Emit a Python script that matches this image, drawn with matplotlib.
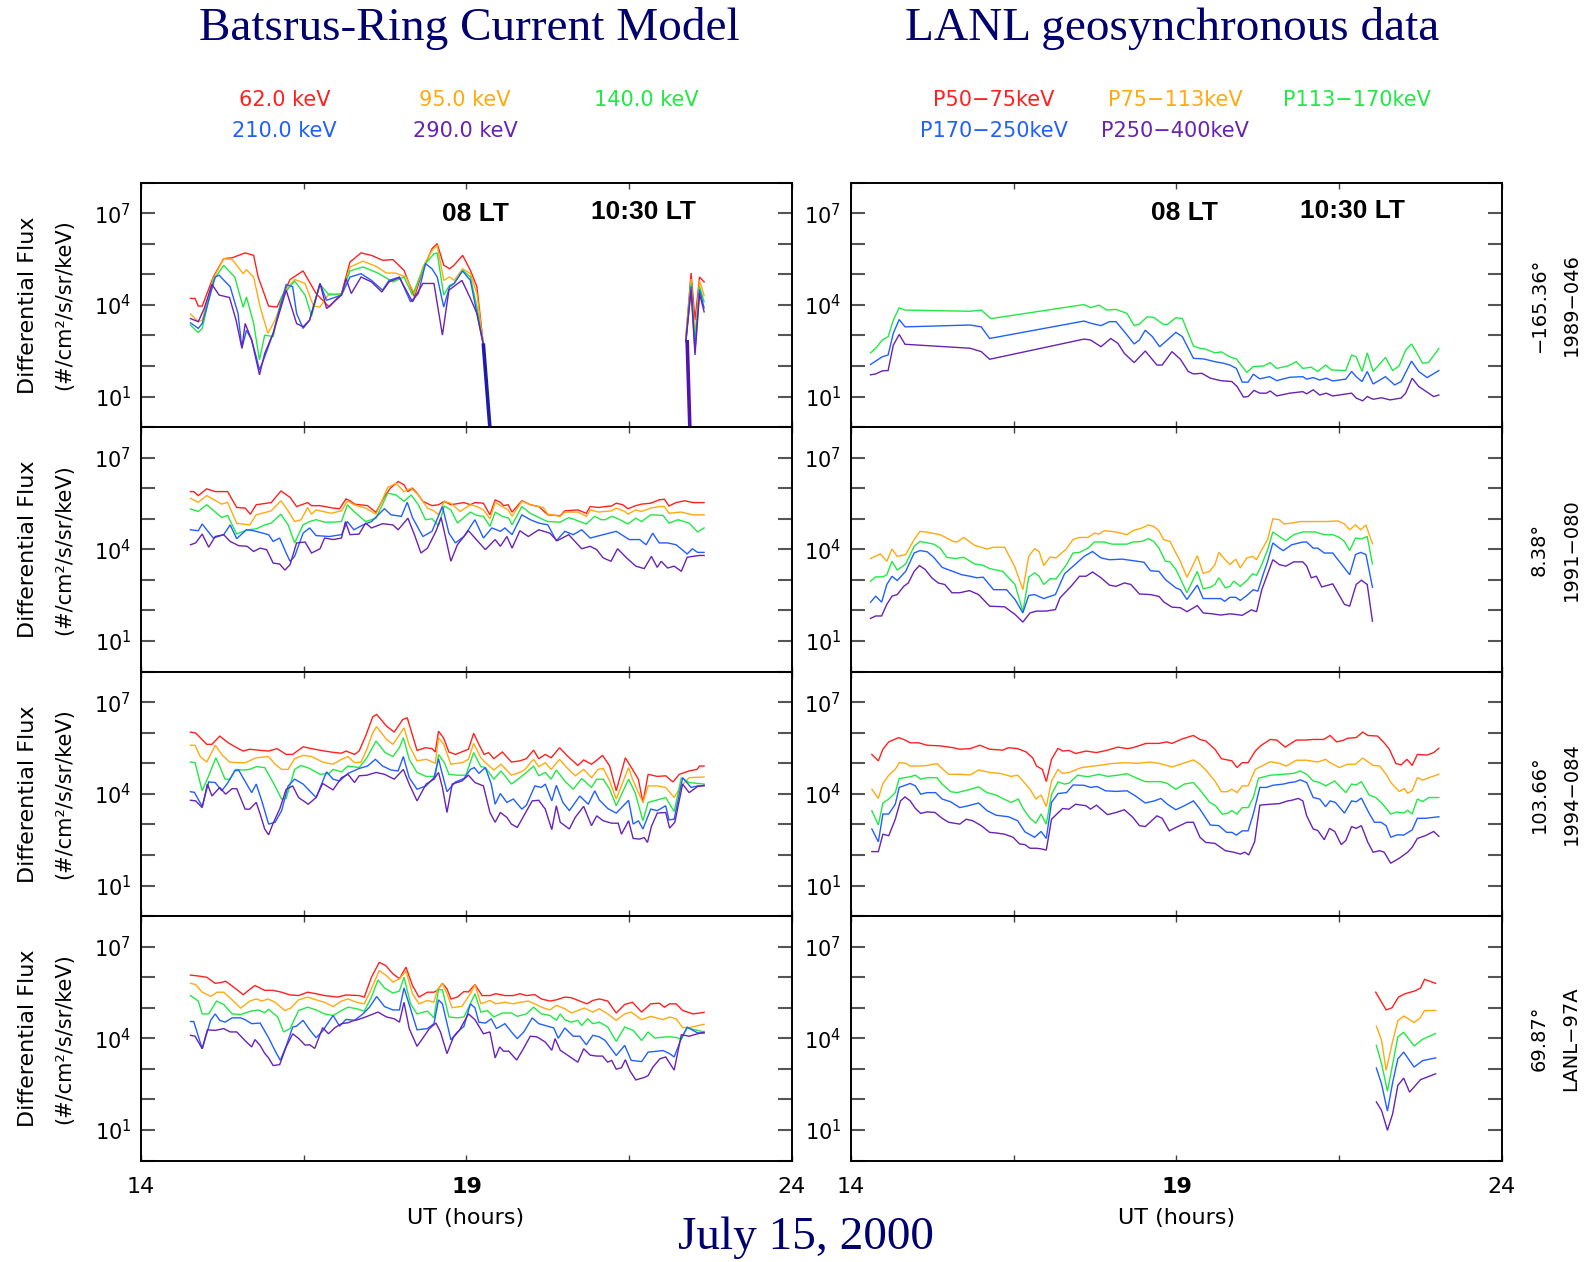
import numpy as np
import matplotlib
matplotlib.use("Agg")
import matplotlib.pyplot as plt
from matplotlib.ticker import FixedLocator, FuncFormatter, NullLocator

plt.rcParams['font.family'] = ['DejaVu Sans']
plt.rcParams['mathtext.fontset'] = 'dejavusans'

# ---------------------------------------------------------------------------
# Data: (UT hour, log10 differential flux) pairs
# GAP marks a break in a series
# ---------------------------------------------------------------------------
GAP = (None, None)

CHANNEL_COLORS = ['#ff2020', '#ffaa10', '#22e845', '#2060ff', '#6a22b4']
MODEL_LABELS = ['62.0 keV', '95.0 keV', '140.0 keV', '210.0 keV', '290.0 keV']
LANL_LABELS = ['P50\u221275keV', 'P75\u2212113keV', 'P113\u2212170keV', 'P170\u2212250keV', 'P250\u2212400keV']
SAT_NAMES = ['1989\u2212046', '1991\u2212080', '1994\u2212084', 'LANL\u221297A']
SAT_LONS = ['\u2212165.36\u00b0', '8.38\u00b0', '103.66\u00b0', '69.87\u00b0']
X_TICKS = [14, 16.5, 19, 21.5, 24]
X_TICK_LABELS = ['14', '', '19', '', '24']
LT_LABELS = ['08 LT', '10:30 LT']

# ---- Model, 1989-046 ----
M1_RED = [(14.76,4.21),(14.83,4.21),(14.88,3.96),(14.94,3.96),(15.11,4.91),(15.27,5.51),(15.40,5.54),(15.60,5.70),(15.73,5.62),(15.80,4.91),(15.96,3.96),(16.09,3.93),(16.29,4.83),(16.49,5.11),(16.69,4.37),(16.89,3.93),(17.08,4.37),(17.21,5.40),(17.38,5.70),(17.54,5.62),(17.71,5.46),(17.87,5.48),(18.04,5.13),(18.20,4.26),(18.33,5.13),(18.47,5.84),(18.55,6.00),(18.65,5.30),(18.74,5.18),(18.81,5.30),(18.94,5.62),(19.06,5.13),(19.16,4.59),(19.26,2.68), GAP, (22.37,2.96),(22.45,5.04),(22.51,3.50),(22.58,4.91),(22.65,4.75)]
M1_ORANGE = [(14.76,3.70),(14.88,3.45),(14.94,3.50),(15.11,4.86),(15.27,5.51),(15.40,5.49),(15.57,5.02),(15.62,5.15),(15.73,4.91),(15.83,3.93),(15.95,3.07),(16.06,3.50),(16.23,4.48),(16.36,4.83),(16.52,4.70),(16.65,3.96),(16.75,3.93),(16.89,4.37),(17.08,4.32),(17.21,5.24),(17.41,5.43),(17.61,5.26),(17.77,5.04),(17.91,5.04),(18.07,4.91),(18.20,4.37),(18.33,5.24),(18.47,5.78),(18.55,5.95),(18.65,4.80),(18.74,4.91),(18.81,4.80),(18.94,5.18),(19.06,5.02),(19.16,4.37),(19.26,2.68), GAP, (22.37,2.90),(22.45,4.85),(22.51,3.00),(22.58,4.80),(22.65,4.30)]
M1_GREEN = [(14.76,3.34),(14.88,3.09),(14.94,3.23),(15.11,4.80),(15.27,5.29),(15.44,4.91),(15.57,3.92),(15.62,4.26),(15.73,3.40),(15.82,2.20),(15.90,3.01),(16.03,2.96),(16.16,4.26),(16.36,4.78),(16.52,4.32),(16.62,3.63),(16.75,4.67),(16.89,4.32),(17.08,4.37),(17.21,5.11),(17.41,5.24),(17.64,5.04),(17.87,4.75),(18.04,4.91),(18.17,4.32),(18.37,5.35),(18.50,5.67),(18.55,5.70),(18.65,4.32),(18.74,4.64),(18.81,4.70),(18.94,5.13),(19.06,4.91),(19.16,3.93),(19.26,2.68), GAP, (22.37,2.85),(22.45,4.70),(22.51,2.80),(22.58,4.60),(22.65,4.10)]
M1_BLUE = [(14.76,3.41),(14.88,3.23),(14.94,3.39),(15.14,4.91),(15.20,4.97),(15.37,4.59),(15.49,3.72),(15.55,2.58),(15.62,3.17),(15.70,2.85),(15.77,2.30),(15.82,1.87),(15.90,2.30),(16.03,3.07),(16.23,4.67),(16.33,4.59),(16.39,3.72),(16.49,3.23),(16.59,3.50),(16.75,4.70),(16.85,4.15),(17.08,4.32),(17.21,4.91),(17.38,5.02),(17.54,4.80),(17.71,4.48),(17.81,4.80),(17.97,4.91),(18.14,4.10),(18.26,4.37),(18.37,5.35),(18.47,5.18),(18.55,4.91),(18.65,3.93),(18.74,4.59),(18.81,4.70),(18.94,5.11),(19.06,4.80),(19.16,3.72),(19.26,2.68), GAP, (22.37,2.80),(22.45,4.60),(22.51,2.50),(22.58,4.50),(22.65,3.90)]
M1_PURPLE = [(14.76,3.55),(14.88,3.45),(14.97,3.88),(15.09,4.67),(15.20,4.32),(15.36,4.24),(15.46,3.50),(15.55,2.58),(15.60,3.39),(15.70,2.85),(15.82,1.71),(15.90,2.41),(16.03,3.07),(16.23,4.48),(16.39,3.39),(16.49,3.28),(16.59,3.50),(16.75,4.70),(16.85,3.88),(17.08,4.32),(17.15,4.86),(17.23,4.37),(17.38,4.91),(17.54,4.75),(17.70,4.42),(17.81,4.75),(17.97,4.89),(18.17,4.10),(18.33,4.70),(18.50,4.70),(18.63,3.01),(18.73,4.48),(18.93,4.80),(19.06,4.21),(19.16,3.72),(19.26,2.68), GAP, (22.37,2.80),(22.45,4.48),(22.51,2.36),(22.58,4.37),(22.65,3.77)]
M1_DROPOUT_A = [(19.26,2.68),(19.37,-0.3)]
M1_DROPOUT_B = [(22.39,2.79),(22.435,-0.3)]

# ---- LANL data, 1989-046 ----
L1_GREEN = [(14.30,2.43),(14.38,2.58),(14.48,2.85),(14.57,2.96),(14.65,3.50),(14.74,3.90),(14.83,3.83),(15.83,3.79),(16.00,3.83),(16.15,3.55),(17.58,4.01),(17.68,3.91),(17.81,3.99),(17.93,3.83),(18.07,3.85),(18.24,3.72),(18.35,3.32),(18.43,3.37),(18.55,3.61),(18.65,3.59),(18.80,3.36),(18.86,3.36),(18.99,3.58),(19.09,3.55),(19.26,2.65),(19.36,2.58),(19.45,2.55),(19.59,2.43),(19.69,2.46),(19.82,2.30),(19.92,2.23),(20.08,1.79),(20.18,1.98),(20.34,2.00),(20.44,2.11),(20.54,1.92),(20.71,2.00),(20.84,2.14),(20.94,1.92),(21.07,1.96),(21.17,1.82),(21.29,2.03),(21.38,1.87),(21.60,1.85),(21.69,2.36),(21.76,2.30),(21.85,1.82),(21.93,2.43),(22.02,1.82),(22.21,2.28),(22.32,1.85),(22.42,2.00),(22.52,2.52),(22.61,2.72),(22.68,2.47),(22.78,2.09),(22.87,2.11),(23.03,2.57)]
L1_BLUE = [(14.30,2.05),(14.48,2.30),(14.57,2.36),(14.65,3.07),(14.74,3.52),(14.83,3.28),(15.83,3.34),(16.00,3.28),(16.13,2.90),(17.58,3.47),(17.68,3.40),(17.84,3.32),(17.97,3.45),(18.07,3.45),(18.20,3.12),(18.35,2.72),(18.43,2.85),(18.52,3.17),(18.63,2.96),(18.74,2.63),(18.86,2.85),(18.99,3.10),(19.09,2.96),(19.26,2.25),(19.42,2.23),(19.59,2.14),(19.72,2.09),(19.82,2.03),(19.92,1.92),(20.01,1.47),(20.10,1.47),(20.18,1.73),(20.28,1.58),(20.43,1.65),(20.54,1.52),(20.74,1.63),(20.94,1.65),(21.00,1.57),(21.10,1.62),(21.20,1.54),(21.30,1.60),(21.40,1.51),(21.60,1.57),(21.69,1.82),(21.76,1.65),(21.85,1.49),(21.93,1.82),(22.02,1.41),(22.21,1.65),(22.35,1.38),(22.45,1.49),(22.61,2.16),(22.72,1.82),(22.85,1.62),(23.03,1.85)]
L1_PURPLE = [(14.30,1.71),(14.38,1.74),(14.48,1.84),(14.57,1.85),(14.65,2.68),(14.74,3.03),(14.83,2.71),(15.83,2.58),(16.00,2.47),(16.13,2.22),(17.58,2.88),(17.68,2.85),(17.84,2.63),(17.99,2.90),(18.10,2.74),(18.20,2.41),(18.35,2.11),(18.52,2.49),(18.70,2.03),(18.78,2.03),(18.93,2.47),(19.06,2.22),(19.18,1.82),(19.26,1.74),(19.39,1.76),(19.52,1.60),(19.68,1.52),(19.85,1.49),(19.93,1.33),(20.03,0.98),(20.10,1.00),(20.19,1.20),(20.28,1.11),(20.38,1.11),(20.44,1.18),(20.54,1.02),(20.74,1.11),(20.94,1.16),(21.00,1.09),(21.10,1.22),(21.20,1.05),(21.30,1.11),(21.40,1.02),(21.69,1.11),(21.76,0.95),(21.86,0.86),(21.93,1.00),(22.02,0.91),(22.15,0.96),(22.28,0.89),(22.45,0.95),(22.52,1.11),(22.62,1.60),(22.72,1.33),(22.95,1.00),(23.03,1.05)]

# ---- Model, 1991-080 ----
M2_RED = [(14.76,5.89),(14.81,5.89),(14.88,5.76),(15.01,5.98),(15.14,5.89),(15.27,5.89),(15.33,5.89),(15.47,5.37),(15.60,5.35),(15.68,5.15),(15.77,5.46),(16.00,5.53),(16.15,5.91),(16.29,5.70),(16.39,5.40),(16.56,5.53),(16.62,5.43),(16.75,5.43),(16.95,5.35),(17.05,5.33),(17.15,5.65),(17.21,5.59),(17.28,5.48),(17.48,5.43),(17.61,5.21),(17.74,5.73),(17.83,6.00),(17.95,6.22),(18.04,6.11),(18.10,5.89),(18.17,6.00),(18.24,5.84),(18.33,5.57),(18.47,5.43),(18.57,5.46),(18.66,5.57),(18.76,5.46),(18.96,5.53),(19.06,5.46),(19.13,5.53),(19.26,5.51),(19.36,5.13),(19.44,5.62),(19.52,5.54),(19.57,5.43),(19.64,5.46),(19.70,5.22),(19.85,5.59),(19.98,5.46),(20.11,5.40),(20.25,5.13),(20.44,5.10),(20.51,5.26),(20.71,5.29),(20.84,5.18),(20.90,5.40),(21.03,5.37),(21.13,5.40),(21.23,5.42),(21.30,5.51),(21.40,5.46),(21.48,5.33),(21.60,5.43),(21.69,5.48),(21.83,5.51),(21.96,5.62),(22.04,5.64),(22.11,5.42),(22.22,5.53),(22.35,5.59),(22.48,5.53),(22.65,5.53)]
M2_ORANGE = [(14.76,5.67),(14.88,5.54),(15.01,5.76),(15.24,5.48),(15.33,5.54),(15.47,4.85),(15.67,4.80),(15.77,5.13),(16.00,5.26),(16.15,5.59),(16.25,5.29),(16.36,4.91),(16.46,4.97),(16.56,5.37),(16.62,5.15),(16.69,5.29),(16.92,5.18),(17.08,5.26),(17.17,5.59),(17.27,5.46),(17.45,5.35),(17.61,5.15),(17.79,6.03),(17.92,6.16),(18.04,5.89),(18.15,6.00),(18.26,5.78),(18.40,5.35),(18.50,5.26),(18.57,5.13),(18.66,5.57),(18.76,5.51),(18.90,5.24),(19.06,5.46),(19.16,5.40),(19.26,5.29),(19.36,5.00),(19.44,5.54),(19.55,5.40),(19.64,5.29),(19.70,5.08),(19.85,5.57),(19.98,5.46),(20.18,5.37),(20.25,5.15),(20.44,5.08),(20.51,5.22),(20.71,5.22),(20.84,5.08),(20.90,5.29),(21.03,5.22),(21.23,5.26),(21.30,5.35),(21.43,5.24),(21.48,5.15),(21.60,5.29),(21.69,5.24),(21.83,5.35),(21.96,5.40),(22.04,5.40),(22.11,5.18),(22.29,5.22),(22.48,5.13),(22.65,5.13)]
M2_GREEN = [(14.76,5.32),(14.88,5.24),(15.01,5.46),(15.24,5.04),(15.33,5.11),(15.47,4.50),(15.63,4.64),(15.77,4.67),(15.90,4.80),(16.00,4.86),(16.15,5.15),(16.26,4.80),(16.36,4.21),(16.49,4.80),(16.59,4.91),(16.69,4.97),(16.82,4.89),(16.95,4.89),(17.08,4.91),(17.17,5.46),(17.27,5.24),(17.45,4.91),(17.61,5.02),(17.79,5.84),(17.92,5.78),(18.04,5.57),(18.15,5.78),(18.26,5.46),(18.37,4.97),(18.47,5.00),(18.57,4.78),(18.66,5.42),(18.76,5.29),(18.86,4.86),(19.06,5.22),(19.16,5.11),(19.26,5.08),(19.36,4.75),(19.44,5.22),(19.55,5.08),(19.65,5.02),(19.70,4.80),(19.85,5.40),(19.98,5.18),(20.18,4.97),(20.25,4.91),(20.44,4.89),(20.57,5.04),(20.74,4.91),(20.84,4.83),(20.97,5.08),(21.07,4.97),(21.13,4.97),(21.23,5.08),(21.33,5.00),(21.48,4.83),(21.60,5.02),(21.69,4.91),(21.83,5.13),(22.02,5.11),(22.11,4.86),(22.25,4.97),(22.42,4.86),(22.55,4.57),(22.65,4.70)]
M2_BLUE = [(14.76,4.64),(14.88,4.61),(14.94,4.83),(15.11,4.37),(15.27,4.48),(15.37,4.80),(15.47,4.35),(15.62,4.64),(15.73,4.61),(15.96,4.48),(16.03,4.26),(16.13,4.37),(16.23,3.88),(16.29,3.61),(16.36,3.77),(16.49,4.53),(16.59,4.70),(16.69,4.45),(16.89,4.42),(17.08,4.48),(17.17,4.91),(17.27,4.64),(17.41,4.80),(17.54,4.91),(17.74,5.33),(17.84,5.13),(18.00,5.08),(18.09,5.54),(18.17,5.04),(18.33,4.42),(18.47,4.59),(18.63,5.40),(18.73,4.53),(18.83,4.21),(18.96,4.42),(19.13,4.97),(19.26,4.37),(19.39,4.70),(19.52,4.59),(19.59,4.70),(19.70,4.48),(19.85,5.13),(19.98,4.97),(20.11,4.86),(20.25,4.80),(20.38,4.28),(20.51,4.59),(20.64,4.48),(20.77,4.64),(20.90,4.37),(21.10,4.48),(21.30,4.59),(21.50,4.32),(21.66,4.32),(21.76,4.15),(21.86,4.53),(21.96,4.21),(22.09,4.21),(22.22,4.15),(22.39,3.85),(22.47,4.02),(22.55,3.90),(22.65,3.90)]
M2_PURPLE = [(14.76,4.15),(14.84,4.21),(14.94,4.50),(15.04,4.07),(15.14,4.42),(15.27,4.48),(15.37,4.26),(15.50,4.12),(15.63,4.10),(15.73,3.93),(15.83,4.04),(15.93,3.99),(16.03,3.55),(16.13,3.52),(16.21,3.32),(16.29,3.50),(16.39,4.21),(16.52,4.24),(16.62,3.88),(16.75,4.02),(16.82,4.37),(16.95,4.32),(17.08,4.37),(17.14,4.91),(17.21,4.48),(17.35,4.50),(17.45,4.86),(17.54,4.70),(17.71,4.84),(17.87,4.80),(17.95,4.64),(18.10,5.02),(18.20,4.48),(18.30,3.88),(18.40,4.04),(18.53,4.59),(18.61,5.04),(18.76,3.61),(18.86,4.15),(19.03,4.61),(19.13,4.37),(19.29,3.99),(19.44,4.32),(19.52,4.10),(19.62,4.42),(19.70,4.04),(19.82,4.61),(19.95,4.42),(20.11,4.64),(20.28,4.53),(20.39,4.28),(20.57,4.48),(20.77,4.02),(20.90,4.10),(21.00,3.99),(21.10,3.72),(21.22,3.61),(21.32,4.02),(21.46,3.72),(21.60,3.45),(21.73,3.37),(21.84,3.77),(21.93,3.41),(21.99,3.61),(22.09,3.39),(22.19,3.45),(22.30,3.28),(22.39,3.74),(22.48,3.77),(22.58,3.80),(22.65,3.80)]

# ---- LANL data, 1991-080 ----
L2_ORANGE = [(14.30,3.70),(14.45,3.85),(14.55,3.61),(14.63,4.01),(14.71,3.77),(14.84,3.83),(14.97,4.32),(15.06,4.59),(15.17,4.56),(15.37,4.48),(15.57,4.26),(15.63,4.24),(15.73,4.39),(15.90,4.13),(16.09,4.01),(16.19,4.07),(16.36,4.07),(16.52,3.41),(16.64,2.68),(16.73,3.77),(16.82,4.02),(16.89,3.93),(16.96,3.47),(17.06,3.75),(17.15,3.72),(17.31,4.02),(17.41,4.32),(17.51,4.39),(17.64,4.39),(17.74,4.53),(17.81,4.50),(17.89,4.61),(18.07,4.57),(18.24,4.48),(18.33,4.61),(18.47,4.70),(18.57,4.80),(18.65,4.75),(18.73,4.61),(18.80,4.32),(18.90,4.26),(18.99,3.88),(19.06,3.61),(19.16,3.09),(19.22,3.34),(19.32,3.79),(19.41,3.21),(19.51,3.28),(19.59,3.50),(19.65,3.90),(19.75,3.66),(19.82,3.50),(19.91,3.68),(19.98,3.39),(20.08,3.72),(20.17,3.77),(20.23,3.66),(20.31,3.99),(20.40,4.32),(20.48,5.00),(20.58,4.97),(20.65,4.83),(20.77,4.86),(20.90,4.91),(21.10,4.91),(21.30,4.91),(21.48,4.93),(21.58,4.83),(21.66,4.64),(21.75,4.80),(21.83,4.64),(21.91,4.80),(22.01,4.18)]
L2_GREEN = [(14.30,2.96),(14.38,3.10),(14.49,3.10),(14.55,3.17),(14.63,3.61),(14.71,3.32),(14.84,3.52),(14.97,4.10),(15.06,4.26),(15.27,4.17),(15.37,4.04),(15.47,3.74),(15.60,3.70),(15.73,3.74),(15.90,3.52),(16.03,3.48),(16.13,3.37),(16.33,3.28),(16.52,2.85),(16.64,1.96),(16.73,3.09),(16.82,3.23),(16.89,3.12),(16.96,2.85),(17.06,3.04),(17.15,3.03),(17.31,3.50),(17.41,3.88),(17.51,3.90),(17.64,4.04),(17.74,4.24),(17.89,4.24),(18.01,4.17),(18.24,4.17),(18.33,4.24),(18.47,4.26),(18.57,4.35),(18.65,4.26),(18.73,4.04),(18.83,3.61),(18.90,3.59),(18.99,3.34),(19.06,3.04),(19.16,2.58),(19.22,2.85),(19.32,3.28),(19.41,2.71),(19.52,2.76),(19.59,2.85),(19.65,3.07),(19.75,2.74),(19.82,2.79),(19.88,2.96),(19.98,2.79),(20.08,2.98),(20.17,3.20),(20.23,3.15),(20.31,3.50),(20.40,3.99),(20.48,4.57),(20.58,4.42),(20.68,4.28),(20.80,4.48),(20.94,4.57),(21.13,4.57),(21.27,4.48),(21.40,4.48),(21.50,4.39),(21.58,4.26),(21.66,3.96),(21.75,4.37),(21.84,4.34),(21.93,4.42),(22.01,3.52)]
L2_BLUE = [(14.30,2.27),(14.38,2.47),(14.47,2.27),(14.55,2.85),(14.63,3.12),(14.71,2.98),(14.84,3.28),(14.97,3.88),(15.06,3.96),(15.17,3.92),(15.27,3.74),(15.40,3.41),(15.60,3.25),(15.70,3.17),(15.83,3.12),(15.93,3.07),(16.03,3.09),(16.19,2.68),(16.39,2.68),(16.52,2.36),(16.64,1.92),(16.73,2.49),(16.82,2.52),(16.96,2.39),(17.14,2.52),(17.28,3.20),(17.45,3.52),(17.58,3.77),(17.71,3.93),(17.84,3.72),(17.97,3.66),(18.17,3.68),(18.33,3.63),(18.50,3.58),(18.60,3.30),(18.73,3.28),(18.83,3.01),(18.99,2.74),(19.06,2.68),(19.16,2.36),(19.32,2.83),(19.41,2.39),(19.55,2.39),(19.68,2.39),(19.74,2.30),(19.82,2.43),(19.91,2.43),(19.98,2.33),(20.08,2.49),(20.18,2.68),(20.25,2.63),(20.33,3.17),(20.40,3.61),(20.48,4.21),(20.58,4.04),(20.64,3.96),(20.77,4.15),(20.94,4.24),(21.00,4.24),(21.10,4.04),(21.17,4.04),(21.27,3.88),(21.40,3.88),(21.48,3.66),(21.58,3.39),(21.66,3.17),(21.75,3.83),(21.83,3.90),(21.91,3.83),(22.01,2.76)]
L2_PURPLE = [(14.30,1.74),(14.38,1.82),(14.47,1.82),(14.55,2.20),(14.63,2.47),(14.71,2.52),(14.81,2.79),(14.88,2.90),(14.97,3.28),(15.05,3.47),(15.14,3.34),(15.24,3.07),(15.34,2.90),(15.44,2.85),(15.55,2.58),(15.67,2.58),(15.82,2.65),(15.96,2.52),(16.13,2.14),(16.36,2.12),(16.52,1.87),(16.64,1.62),(16.75,1.92),(16.85,1.98),(17.00,1.98),(17.14,2.03),(17.21,2.41),(17.38,2.79),(17.51,3.12),(17.61,3.12),(17.71,3.26),(17.84,3.07),(17.97,2.83),(18.07,2.79),(18.20,2.90),(18.30,2.85),(18.43,2.54),(18.60,2.52),(18.73,2.46),(18.81,2.27),(18.93,2.11),(19.06,2.09),(19.16,1.96),(19.32,2.16),(19.41,1.92),(19.55,1.89),(19.68,1.85),(19.82,1.89),(19.91,1.87),(20.01,1.84),(20.15,2.02),(20.23,1.96),(20.31,2.68),(20.48,3.66),(20.58,3.50),(20.68,3.45),(20.80,3.59),(20.94,3.59),(21.00,3.45),(21.07,3.07),(21.15,3.12),(21.23,2.77),(21.40,2.87),(21.58,2.20),(21.66,2.14),(21.76,2.85),(21.84,2.99),(21.93,2.85),(22.01,1.65)]

# ---- Model, 1994-084 ----
M3_RED = [(14.76,6.02),(14.84,5.99),(15.01,5.62),(15.09,5.62),(15.21,5.89),(15.34,5.67),(15.47,5.51),(15.57,5.40),(15.67,5.46),(15.80,5.43),(15.96,5.40),(16.09,5.48),(16.23,5.29),(16.33,5.29),(16.49,5.54),(16.62,5.48),(16.82,5.40),(16.98,5.35),(17.08,5.33),(17.15,5.40),(17.28,5.29),(17.35,5.40),(17.45,5.89),(17.56,6.52),(17.62,6.60),(17.77,6.22),(17.89,6.02),(18.02,6.43),(18.09,6.49),(18.24,5.42),(18.37,5.51),(18.47,5.48),(18.52,5.37),(18.57,6.05),(18.65,5.82),(18.73,5.37),(18.83,5.29),(18.96,5.40),(19.03,5.46),(19.11,5.98),(19.19,5.62),(19.27,5.29),(19.34,5.35),(19.42,5.15),(19.55,5.37),(19.69,5.04),(19.82,5.08),(19.92,5.15),(20.03,5.43),(20.11,5.15),(20.21,5.29),(20.30,5.18),(20.43,5.51),(20.54,5.26),(20.71,4.93),(20.80,5.11),(20.92,4.97),(21.00,5.10),(21.09,5.26),(21.20,4.91),(21.30,4.10),(21.44,5.18),(21.55,4.80),(21.64,4.48),(21.71,3.72),(21.79,4.64),(21.93,4.57),(22.06,4.59),(22.17,4.39),(22.27,4.64),(22.42,4.75),(22.54,4.80),(22.58,4.91),(22.65,4.91)]
M3_ORANGE = [(14.76,5.59),(14.83,5.59),(14.91,5.22),(15.01,5.04),(15.14,5.59),(15.24,5.29),(15.36,5.04),(15.50,5.02),(15.60,5.02),(15.77,5.18),(15.96,5.22),(16.06,4.97),(16.16,4.80),(16.26,4.80),(16.36,5.15),(16.49,5.26),(16.62,5.22),(16.79,5.04),(16.95,4.97),(17.08,5.13),(17.18,5.22),(17.28,5.02),(17.38,5.04),(17.47,5.46),(17.56,6.00),(17.62,6.20),(17.77,5.78),(17.87,5.62),(18.04,6.16),(18.12,5.59),(18.24,5.08),(18.38,5.13),(18.52,5.00),(18.57,5.84),(18.65,5.62),(18.76,4.97),(18.93,5.02),(19.03,5.13),(19.11,5.65),(19.22,5.18),(19.29,5.02),(19.42,4.78),(19.53,4.97),(19.69,4.61),(19.82,4.70),(19.90,4.80),(20.03,5.13),(20.11,4.89),(20.21,5.02),(20.30,4.80),(20.43,5.13),(20.54,4.86),(20.67,4.59),(20.80,4.80),(20.92,4.53),(21.02,4.80),(21.10,4.83),(21.20,4.42),(21.30,3.83),(21.49,4.86),(21.55,4.48),(21.64,4.04),(21.71,3.72),(21.79,4.26),(21.93,4.26),(22.06,4.21),(22.19,3.88),(22.29,4.24),(22.42,4.53),(22.65,4.55)]
M3_GREEN = [(14.76,5.04),(14.83,5.02),(14.94,4.10),(15.04,4.59),(15.15,5.18),(15.23,4.80),(15.29,4.48),(15.37,4.48),(15.45,4.80),(15.57,4.78),(15.67,4.80),(15.77,4.89),(15.90,4.86),(16.03,4.37),(16.16,3.83),(16.23,3.85),(16.36,4.80),(16.46,4.93),(16.59,4.83),(16.75,4.64),(16.89,4.67),(16.95,4.80),(17.08,4.72),(17.18,4.91),(17.35,4.86),(17.47,5.18),(17.61,5.73),(17.75,5.35),(17.87,5.22),(17.97,5.51),(18.03,5.84),(18.12,5.13),(18.24,4.70),(18.38,4.57),(18.52,4.57),(18.57,5.29),(18.66,5.02),(18.73,4.64),(18.86,4.61),(18.99,4.61),(19.11,5.35),(19.22,4.89),(19.29,4.86),(19.42,4.48),(19.53,4.75),(19.69,4.32),(19.82,4.53),(19.92,4.70),(20.03,4.91),(20.11,4.59),(20.21,4.70),(20.30,4.48),(20.38,4.78),(20.51,4.42),(20.64,4.15),(20.77,4.50),(20.92,4.21),(21.00,4.48),(21.10,4.48),(21.20,4.15),(21.30,3.61),(21.49,4.48),(21.59,4.04),(21.71,3.12),(21.79,3.72),(21.93,3.80),(22.06,3.88),(22.19,3.42),(22.30,4.53),(22.42,4.37),(22.65,4.32)]
M3_BLUE = [(14.76,4.07),(14.82,4.05),(14.94,3.59),(15.04,4.39),(15.14,4.37),(15.24,4.10),(15.32,4.32),(15.44,4.75),(15.50,4.78),(15.58,4.48),(15.70,4.04),(15.77,4.32),(15.86,3.74),(15.96,3.01),(16.06,3.07),(16.16,3.45),(16.26,4.26),(16.36,4.48),(16.49,4.32),(16.69,3.88),(16.85,4.72),(16.95,4.48),(17.05,4.42),(17.18,4.67),(17.35,4.83),(17.48,4.91),(17.60,5.13),(17.71,4.91),(17.84,4.78),(17.95,4.75),(18.03,5.22),(18.12,4.53),(18.24,4.15),(18.38,4.26),(18.50,4.53),(18.57,5.15),(18.61,4.80),(18.70,4.07),(18.83,4.39),(18.96,4.50),(19.06,4.80),(19.12,4.86),(19.19,4.67),(19.29,4.86),(19.38,4.32),(19.44,3.66),(19.52,4.01),(19.62,3.72),(19.72,3.83),(19.85,3.50),(19.92,3.63),(20.05,4.26),(20.15,4.21),(20.21,4.32),(20.31,3.77),(20.38,4.28),(20.48,3.72),(20.58,3.45),(20.74,3.93),(20.87,3.66),(20.97,4.10),(21.04,3.80),(21.17,3.52),(21.30,3.37),(21.49,3.79),(21.56,3.01),(21.64,3.12),(21.71,2.85),(21.83,3.50),(21.93,3.45),(22.06,3.61),(22.11,3.15),(22.19,3.17),(22.32,4.53),(22.45,4.21),(22.55,4.26),(22.65,4.26)]
M3_PURPLE = [(14.76,3.79),(14.84,3.77),(14.94,3.55),(15.02,4.32),(15.09,3.93),(15.21,4.21),(15.30,3.99),(15.40,4.17),(15.47,4.17),(15.60,3.50),(15.67,3.50),(15.77,3.72),(15.83,3.34),(15.90,2.85),(15.96,2.66),(16.03,3.04),(16.13,3.50),(16.23,4.15),(16.33,4.26),(16.42,3.88),(16.57,3.66),(16.69,3.88),(16.79,4.34),(16.95,4.13),(17.08,4.53),(17.18,4.64),(17.28,4.37),(17.35,4.59),(17.47,4.61),(17.61,4.70),(17.74,4.64),(17.89,4.48),(18.03,4.80),(18.12,4.32),(18.24,3.77),(18.38,4.32),(18.50,4.48),(18.57,4.70),(18.63,4.21),(18.70,3.39),(18.78,4.32),(18.93,4.42),(19.03,4.61),(19.13,4.37),(19.26,4.26),(19.36,3.39),(19.44,3.07),(19.52,3.39),(19.62,3.23),(19.69,3.01),(19.78,2.90),(19.88,3.28),(20.01,3.77),(20.11,3.79),(20.21,3.50),(20.31,2.83),(20.38,3.61),(20.44,3.07),(20.58,2.85),(20.67,3.23),(20.80,3.59),(20.92,2.96),(21.00,3.28),(21.10,3.12),(21.23,3.04),(21.33,3.04),(21.38,2.68),(21.49,3.12),(21.56,2.54),(21.66,2.52),(21.73,2.57),(21.78,2.41),(21.84,2.93),(21.93,3.37),(22.06,3.39),(22.12,2.88),(22.20,3.07),(22.32,4.32),(22.42,4.04),(22.55,4.24),(22.65,4.28)]

# ---- LANL data, 1994-084 ----
L3_RED = [(14.32,5.29),(14.42,5.08),(14.49,5.46),(14.58,5.70),(14.73,5.84),(14.81,5.78),(14.91,5.67),(15.04,5.67),(15.17,5.59),(15.37,5.57),(15.57,5.51),(15.67,5.46),(15.83,5.48),(15.98,5.59),(16.13,5.46),(16.33,5.43),(16.42,5.51),(16.56,5.48),(16.69,5.37),(16.79,5.18),(16.85,4.91),(16.94,4.80),(17.00,4.40),(17.08,5.13),(17.18,5.49),(17.25,5.40),(17.35,5.42),(17.45,5.32),(17.61,5.40),(17.77,5.35),(17.94,5.43),(18.10,5.53),(18.24,5.48),(18.33,5.51),(18.53,5.65),(18.73,5.65),(18.85,5.70),(18.93,5.65),(19.09,5.80),(19.26,5.91),(19.36,5.78),(19.45,5.73),(19.59,5.46),(19.69,5.15),(19.85,5.08),(19.93,4.86),(20.01,5.02),(20.10,5.02),(20.21,5.40),(20.29,5.57),(20.44,5.78),(20.54,5.76),(20.67,5.53),(20.84,5.76),(20.97,5.76),(21.10,5.78),(21.26,5.78),(21.36,5.91),(21.46,5.70),(21.56,5.75),(21.63,5.82),(21.76,5.84),(21.86,6.02),(21.94,5.91),(22.09,5.89),(22.19,5.67),(22.27,5.46),(22.37,4.99),(22.45,4.95),(22.54,5.13),(22.62,4.93),(22.70,5.29),(22.85,5.27),(22.95,5.35),(23.03,5.49)]
L3_ORANGE = [(14.32,4.15),(14.42,3.85),(14.49,4.34),(14.58,4.61),(14.68,4.80),(14.74,5.02),(14.84,5.00),(14.91,4.91),(15.07,4.91),(15.17,4.93),(15.32,4.99),(15.40,4.83),(15.50,4.64),(15.67,4.64),(15.83,4.62),(15.96,4.78),(16.13,4.70),(16.29,4.67),(16.46,4.57),(16.56,4.61),(16.65,4.40),(16.75,4.15),(16.84,3.83),(16.92,3.96),(17.00,3.58),(17.08,4.42),(17.18,4.80),(17.25,4.67),(17.35,4.70),(17.54,4.86),(17.81,4.93),(18.00,4.99),(18.20,5.02),(18.40,5.00),(18.60,5.04),(18.73,5.00),(18.93,4.88),(19.06,4.97),(19.16,5.04),(19.26,5.11),(19.36,4.97),(19.45,4.78),(19.59,4.42),(19.69,4.07),(19.78,4.07),(19.85,4.15),(19.93,4.04),(20.01,4.26),(20.10,4.26),(20.21,4.80),(20.31,4.91),(20.44,5.05),(20.58,5.00),(20.69,4.91),(20.84,5.10),(21.00,5.10),(21.17,5.04),(21.29,5.13),(21.36,5.02),(21.50,4.86),(21.63,4.97),(21.75,4.97),(21.86,5.17),(22.02,4.93),(22.12,4.91),(22.22,4.64),(22.30,4.35),(22.42,4.08),(22.50,4.17),(22.55,4.02),(22.62,4.10),(22.70,4.53),(22.78,4.45),(22.88,4.53),(23.03,4.64)]
L3_GREEN = [(14.32,3.45),(14.42,2.98),(14.49,3.70),(14.58,3.83),(14.68,4.04),(14.74,4.50),(14.91,4.56),(14.99,4.61),(15.07,4.48),(15.17,4.53),(15.32,4.53),(15.40,4.32),(15.53,4.07),(15.63,4.04),(15.80,4.13),(15.96,4.23),(16.09,4.04),(16.23,3.96),(16.33,3.85),(16.46,3.72),(16.57,3.83),(16.65,3.50),(16.75,3.20),(16.84,3.04),(16.92,3.34),(17.00,3.01),(17.08,3.98),(17.18,4.39),(17.28,4.32),(17.35,4.35),(17.48,4.61),(17.64,4.56),(17.81,4.64),(17.94,4.57),(18.10,4.61),(18.24,4.66),(18.37,4.53),(18.52,4.40),(18.76,4.40),(18.86,4.34),(18.99,4.15),(19.12,4.32),(19.26,4.37),(19.36,4.13),(19.51,3.72),(19.60,3.61),(19.70,3.34),(19.78,3.36),(19.85,3.45),(19.93,3.34),(20.01,3.55),(20.10,3.55),(20.18,3.88),(20.26,4.51),(20.44,4.61),(20.64,4.64),(20.80,4.67),(20.90,4.75),(21.00,4.64),(21.10,4.42),(21.20,4.37),(21.29,4.26),(21.43,4.42),(21.60,4.04),(21.69,4.32),(21.76,4.29),(21.84,4.40),(21.96,3.96),(22.06,3.88),(22.17,3.66),(22.29,3.34),(22.39,3.41),(22.49,3.37),(22.55,3.46),(22.62,3.34),(22.70,3.83),(22.78,3.75),(22.88,3.88),(23.03,3.88)]
L3_BLUE = [(14.32,2.85),(14.42,2.43),(14.49,3.34),(14.58,3.34),(14.68,3.66),(14.74,4.21),(14.91,4.34),(14.99,4.26),(15.07,3.99),(15.17,4.04),(15.30,4.04),(15.40,3.83),(15.53,3.74),(15.67,3.55),(15.80,3.61),(15.96,3.70),(16.09,3.45),(16.23,3.30),(16.42,3.25),(16.56,3.12),(16.67,2.76),(16.82,2.58),(16.92,2.77),(17.00,2.54),(17.08,3.72),(17.18,4.01),(17.31,4.04),(17.41,4.29),(17.58,4.28),(17.68,4.21),(17.78,4.24),(17.91,4.10),(18.07,4.08),(18.24,4.10),(18.37,3.93),(18.52,3.70),(18.66,3.77),(18.76,3.85),(18.86,3.66),(18.99,3.48),(19.12,3.61),(19.26,3.77),(19.36,3.50),(19.52,2.98),(19.65,2.96),(19.77,2.74),(19.85,2.74),(19.92,2.65),(20.01,2.79),(20.10,2.79),(20.18,3.34),(20.28,4.21),(20.38,4.21),(20.48,4.28),(20.64,4.32),(20.74,4.37),(20.82,4.39),(20.90,4.46),(21.00,4.37),(21.10,3.88),(21.20,3.83),(21.29,3.58),(21.36,3.77),(21.44,3.72),(21.58,3.37),(21.69,3.77),(21.76,3.74),(21.84,3.86),(21.96,3.36),(22.04,3.07),(22.14,3.07),(22.22,2.96),(22.29,2.58),(22.39,2.66),(22.49,2.65),(22.62,2.82),(22.70,3.20),(22.82,3.20),(23.03,3.25)]
L3_PURPLE = [(14.32,2.11),(14.42,2.11),(14.49,2.68),(14.58,2.63),(14.68,3.17),(14.76,3.77),(14.83,3.90),(14.91,3.77),(14.99,3.52),(15.07,3.36),(15.17,3.41),(15.29,3.39),(15.40,3.20),(15.50,3.07),(15.67,3.01),(15.77,3.17),(15.87,3.12),(16.00,2.96),(16.13,2.74),(16.23,2.72),(16.36,2.68),(16.49,2.58),(16.59,2.36),(16.67,2.34),(16.75,2.22),(16.85,2.22),(16.92,2.20),(17.00,2.16),(17.08,3.17),(17.25,3.52),(17.35,3.50),(17.45,3.66),(17.61,3.61),(17.68,3.50),(17.77,3.63),(17.94,3.32),(18.07,3.39),(18.20,3.48),(18.33,3.23),(18.43,2.96),(18.52,2.93),(18.70,3.28),(18.78,3.20),(18.89,2.79),(18.99,2.90),(19.16,3.07),(19.26,3.07),(19.36,2.58),(19.45,2.41),(19.59,2.38),(19.75,2.14),(19.88,2.09),(19.98,2.03),(20.05,2.09),(20.11,2.00),(20.20,2.43),(20.28,3.63),(20.44,3.66),(20.58,3.68),(20.71,3.77),(20.77,3.79),(20.87,3.85),(20.94,3.77),(21.00,3.28),(21.10,2.85),(21.17,2.80),(21.27,2.50),(21.35,2.87),(21.43,2.77),(21.53,2.34),(21.60,2.47),(21.69,2.93),(21.76,2.87),(21.84,2.96),(21.94,2.41),(22.02,2.09),(22.12,2.14),(22.19,2.09),(22.29,1.73),(22.42,1.89),(22.55,2.09),(22.62,2.25),(22.70,2.54),(22.82,2.63),(22.95,2.77),(23.03,2.61)]

# ---- Model, LANL-97A ----
M4_RED = [(14.76,6.07),(14.88,6.04),(15.01,6.00),(15.14,5.80),(15.24,5.83),(15.30,5.87),(15.44,5.65),(15.57,5.43),(15.67,5.60),(15.75,5.73),(15.90,5.57),(16.03,5.57),(16.16,5.51),(16.29,5.42),(16.42,5.40),(16.56,5.51),(16.69,5.46),(16.82,5.40),(17.02,5.35),(17.15,5.42),(17.35,5.40),(17.43,5.35),(17.54,6.00),(17.66,6.49),(17.76,6.38),(17.87,6.11),(17.97,5.95),(18.07,6.33),(18.17,5.73),(18.27,5.35),(18.40,5.51),(18.50,5.51),(18.55,5.57),(18.63,5.80),(18.70,5.62),(18.76,5.29),(18.86,5.35),(18.96,5.53),(19.03,5.52),(19.13,5.76),(19.24,5.40),(19.36,5.40),(19.45,5.46),(19.59,5.40),(19.72,5.40),(19.82,5.46),(19.92,5.40),(20.05,5.43),(20.15,5.29),(20.28,5.22),(20.38,5.26),(20.51,5.35),(20.61,5.33),(20.74,5.22),(20.85,5.13),(20.94,5.24),(21.04,5.29),(21.17,5.22),(21.30,4.83),(21.43,5.11),(21.55,5.18),(21.69,4.86),(21.83,5.13),(21.96,5.15),(22.04,5.02),(22.12,5.13),(22.22,5.13),(22.32,4.91),(22.48,4.80),(22.65,4.85)]
M4_ORANGE = [(14.76,5.80),(14.84,5.76),(14.94,5.51),(15.07,5.37),(15.17,5.51),(15.27,5.51),(15.40,5.26),(15.53,4.99),(15.67,5.22),(15.77,5.29),(15.86,5.22),(15.95,5.29),(16.06,5.18),(16.21,4.91),(16.30,4.99),(16.42,5.26),(16.56,5.35),(16.69,5.26),(16.82,5.18),(16.95,5.04),(17.08,5.22),(17.18,5.29),(17.31,5.18),(17.43,5.13),(17.54,5.62),(17.66,6.22),(17.77,6.05),(17.87,5.84),(17.97,5.95),(18.07,6.20),(18.17,5.46),(18.27,5.13),(18.40,5.24),(18.50,5.18),(18.55,5.57),(18.63,5.80),(18.70,5.46),(18.78,5.00),(18.93,5.05),(19.06,5.46),(19.13,5.75),(19.22,5.13),(19.36,5.24),(19.45,5.13),(19.59,5.18),(19.72,5.13),(19.82,5.18),(19.95,5.22),(20.05,5.13),(20.15,5.02),(20.28,4.93),(20.38,5.08),(20.51,4.97),(20.61,4.83),(20.71,4.91),(20.81,4.99),(20.94,4.86),(21.04,4.97),(21.17,4.80),(21.30,4.59),(21.43,4.80),(21.53,4.86),(21.69,4.61),(21.83,4.72),(21.92,4.67),(22.02,4.61),(22.12,4.70),(22.22,4.64),(22.32,4.35),(22.42,4.35),(22.65,4.46)]
M4_GREEN = [(14.76,5.40),(14.88,5.22),(14.94,4.80),(15.04,4.80),(15.16,5.22),(15.27,5.11),(15.40,4.80),(15.53,4.78),(15.67,4.88),(15.80,4.93),(15.90,4.84),(15.96,4.95),(16.10,4.70),(16.19,4.21),(16.29,4.32),(16.42,4.91),(16.56,5.02),(16.69,4.93),(16.82,4.80),(16.95,4.75),(17.08,4.91),(17.18,5.02),(17.31,4.97),(17.43,4.89),(17.54,5.35),(17.64,5.91),(17.74,5.65),(17.87,5.48),(17.97,5.55),(18.04,6.00),(18.14,5.13),(18.24,4.80),(18.40,4.89),(18.50,4.67),(18.57,5.59),(18.63,5.59),(18.73,4.70),(18.86,4.67),(18.96,4.70),(19.06,5.13),(19.13,5.46),(19.22,4.86),(19.32,4.91),(19.42,4.70),(19.55,4.83),(19.69,4.83),(19.78,4.72),(19.92,4.80),(20.03,5.02),(20.15,4.80),(20.28,4.75),(20.38,4.59),(20.44,4.80),(20.51,4.61),(20.61,4.53),(20.71,4.59),(20.77,4.42),(20.86,4.64),(20.94,4.48),(21.04,4.53),(21.17,4.37),(21.30,3.90),(21.43,4.37),(21.56,4.26),(21.69,3.93),(21.79,4.21),(21.89,4.01),(22.02,4.04),(22.12,4.05),(22.22,4.03),(22.29,3.98),(22.39,4.34),(22.55,4.26),(22.65,4.21)]
M4_BLUE = [(14.76,4.55),(14.81,4.55),(14.94,3.66),(15.07,4.59),(15.14,4.80),(15.21,4.59),(15.29,4.53),(15.40,4.67),(15.53,4.67),(15.60,4.61),(15.70,4.48),(15.83,4.50),(15.96,4.02),(16.06,3.59),(16.14,3.28),(16.23,3.75),(16.33,4.37),(16.39,4.40),(16.49,4.59),(16.59,4.28),(16.69,4.02),(16.79,4.24),(16.95,4.75),(17.05,4.40),(17.15,4.62),(17.28,4.59),(17.41,4.80),(17.51,5.02),(17.62,5.37),(17.74,5.04),(17.87,4.93),(17.97,4.93),(18.04,5.65),(18.14,4.97),(18.24,4.28),(18.40,4.32),(18.50,4.48),(18.57,5.26),(18.63,5.13),(18.76,3.95),(18.86,4.21),(18.96,4.39),(19.06,5.13),(19.13,5.00),(19.19,4.53),(19.29,4.50),(19.38,4.64),(19.46,4.32),(19.59,4.48),(19.69,4.21),(19.78,3.99),(19.88,4.21),(20.01,4.67),(20.11,4.48),(20.21,4.42),(20.34,4.34),(20.41,4.00),(20.51,4.34),(20.64,4.07),(20.74,4.07),(20.84,3.79),(20.94,4.10),(21.04,4.05),(21.13,3.93),(21.30,3.44),(21.43,3.77),(21.53,3.28),(21.69,3.24),(21.79,3.55),(21.89,3.57),(22.02,3.60),(22.12,3.50),(22.19,3.39),(22.29,3.94),(22.39,4.37),(22.48,4.26),(22.55,4.18),(22.65,4.17)]
M4_PURPLE = [(14.76,4.10),(14.83,4.07),(14.94,3.66),(15.02,4.28),(15.14,4.26),(15.27,4.32),(15.37,4.21),(15.47,4.21),(15.62,3.88),(15.70,3.72),(15.75,3.96),(15.83,3.77),(15.90,3.51),(15.96,3.36),(16.03,3.11),(16.13,3.14),(16.23,3.72),(16.33,4.15),(16.42,4.00),(16.52,3.78),(16.59,3.79),(16.67,3.67),(16.79,4.35),(16.88,4.15),(16.98,4.35),(17.08,4.48),(17.18,4.51),(17.25,4.57),(17.33,4.61),(17.45,4.70),(17.51,4.75),(17.64,4.86),(17.77,4.70),(17.89,4.64),(17.97,4.53),(18.04,5.18),(18.12,4.32),(18.24,3.74),(18.34,4.04),(18.43,4.32),(18.53,4.50),(18.60,4.21),(18.70,3.50),(18.80,4.04),(18.89,4.26),(19.03,4.80),(19.13,4.61),(19.26,4.15),(19.36,4.21),(19.44,3.36),(19.51,3.72),(19.57,3.58),(19.65,3.58),(19.77,3.29),(19.86,3.61),(19.98,4.07),(20.08,4.05),(20.21,3.88),(20.31,3.61),(20.36,3.99),(20.44,3.61),(20.58,3.41),(20.71,3.22),(20.80,3.66),(20.90,3.45),(21.00,3.42),(21.09,3.42),(21.17,3.22),(21.23,3.28),(21.30,2.99),(21.38,3.04),(21.44,3.30),(21.51,2.94),(21.60,2.64),(21.73,2.72),(21.79,2.78),(21.86,3.05),(21.97,3.33),(22.06,3.39),(22.19,2.96),(22.30,4.12),(22.42,4.07),(22.55,4.15),(22.65,4.20)]

# ---- LANL data, LANL-97A ----
L4_RED = [(22.06,5.51),(22.22,4.93),(22.31,5.00),(22.41,5.35),(22.51,5.46),(22.66,5.55),(22.75,5.65),(22.81,5.93),(22.98,5.80)]
L4_ORANGE = [(22.07,4.40),(22.15,3.93),(22.22,2.95),(22.32,3.90),(22.40,4.58),(22.49,4.73),(22.65,4.52),(22.74,4.66),(22.81,4.91),(22.98,4.91)]
L4_GREEN = [(22.07,3.77),(22.15,3.17),(22.24,2.27),(22.32,3.15),(22.40,4.05),(22.49,4.20),(22.65,3.75),(22.78,3.97),(22.98,4.16)]
L4_BLUE = [(22.07,3.03),(22.15,2.51),(22.24,1.62),(22.32,2.55),(22.40,3.33),(22.49,3.55),(22.65,3.06),(22.78,3.27),(22.98,3.36)]
L4_PURPLE = [(22.07,1.92),(22.15,1.64),(22.24,0.99),(22.32,1.53),(22.40,2.46),(22.49,2.70),(22.58,2.24),(22.75,2.65),(22.98,2.84)]

# ---------------------------------------------------------------------------
# Layout
# ---------------------------------------------------------------------------
W, H = 1591, 1262
fig = plt.figure(figsize=(W / 100, H / 100), dpi=100)
fig.patch.set_facecolor('white')


def fx(x):
    return x / W


def fy(y):
    return 1 - y / H


COL_X = [141, 851]
AX_W = 651
ROW_TOP = [182.6, 427.1, 671.6, 916.1]
AX_H = 244.5
NAVY = '#00006e'
LT_POS = [[(475, 214), (643, 212)], [(1184, 213), (1352, 211)]]


def ylab_fmt(v, pos):
    k = int(round(np.log10(v)))
    if k in (1, 4, 7):
        return r'$\mathregular{10^{%d}}$' % k
    return ''


def style_axes(ax, bottom):
    ax.set_yscale('log')
    ax.set_xlim(14, 24)
    ax.set_ylim(1, 1e8)
    ax.yaxis.set_major_locator(FixedLocator([10.0 ** k for k in range(0, 9)]))
    ax.yaxis.set_minor_locator(NullLocator())
    ax.yaxis.set_major_formatter(FuncFormatter(ylab_fmt))
    ax.tick_params(axis='y', which='major', direction='in', length=10, width=1.5,
                   color='#555555', left=True, right=True, labelsize=15, pad=7)
    ax.set_xticks(X_TICKS)
    ax.xaxis.set_minor_locator(NullLocator())
    ax.tick_params(axis='x', which='major', direction='in', length=4, width=1.0,
                   color='#444444', top=True, bottom=True, labelsize=16, pad=12)
    if bottom:
        ax.set_xticklabels(X_TICK_LABELS)
        ax.get_xticklabels()[2].set_fontweight('bold')
    else:
        ax.set_xticklabels([])
    for s in ax.spines.values():
        s.set_linewidth(1.4)
        s.set_color('black')


def draw_series(ax, series, color, lw=1.0):
    arr = np.array(series, dtype=float)
    ax.plot(arr[:, 0], 10.0 ** arr[:, 1], color=color, lw=lw, solid_joinstyle='miter')


MODEL_ROWS = [
    [M1_RED, M1_ORANGE, M1_GREEN, M1_BLUE, M1_PURPLE],
    [M2_RED, M2_ORANGE, M2_GREEN, M2_BLUE, M2_PURPLE],
    [M3_RED, M3_ORANGE, M3_GREEN, M3_BLUE, M3_PURPLE],
    [M4_RED, M4_ORANGE, M4_GREEN, M4_BLUE, M4_PURPLE],
]
LANL_ROWS = [
    [None, None, L1_GREEN, L1_BLUE, L1_PURPLE],
    [None, L2_ORANGE, L2_GREEN, L2_BLUE, L2_PURPLE],
    [L3_RED, L3_ORANGE, L3_GREEN, L3_BLUE, L3_PURPLE],
    [L4_RED, L4_ORANGE, L4_GREEN, L4_BLUE, L4_PURPLE],
]

for r in range(4):
    for c, rows in enumerate([MODEL_ROWS, LANL_ROWS]):
        ax = fig.add_axes([fx(COL_X[c]), fy(ROW_TOP[r] + AX_H), AX_W / W, AX_H / H])
        style_axes(ax, bottom=(r == 3))
        for series, color in zip(rows[r], CHANNEL_COLORS):
            if series is not None:
                draw_series(ax, series, color)
        if r == 0 and c == 0:
            draw_series(ax, M1_DROPOUT_A, '#1c1ca8', lw=2.6)
            draw_series(ax, M1_DROPOUT_B, '#5212b0', lw=2.6)
        if r == 0:
            for (x, y), lab in zip(LT_POS[c], LT_LABELS):
                fig.text(fx(x), fy(y), lab, family='Liberation Sans',
                         weight='bold', size=19, ha='center', va='center')
    yc = ROW_TOP[r] + AX_H / 2
    fig.text(fx(28), fy(yc), 'Differential Flux', rotation=90, ha='center', va='center', size=16)
    fig.text(fx(64), fy(yc), '(#/cm\u00b2/s/sr/keV)', rotation=90, ha='center', va='center', size=15)
    fig.text(fx(1539), fy(yc), SAT_LONS[r], rotation=90, ha='center', va='center', size=14)
    fig.text(fx(1571), fy(yc), SAT_NAMES[r], rotation=90, ha='center', va='center', size=14)

# Titles
fig.text(fx(469), fy(29), 'Batsrus-Ring Current Model', family='Liberation Serif',
         size=34, color=NAVY, ha='center', va='center')
fig.text(fx(1172), fy(29), 'LANL geosynchronous data', family='Liberation Serif',
         size=34, color=NAVY, ha='center', va='center')
fig.text(fx(806), fy(1238), 'July 15, 2000', family='Liberation Serif',
         size=34, color=NAVY, ha='center', va='center')

# Legends (colored labels)
LEG_POS_LEFT = [(285, 100), (465, 100), (646, 100), (284, 131), (465, 131)]
LEG_POS_RIGHT = [(994, 100), (1175, 100), (1357, 100), (994, 131), (1175, 131)]
for (x, y), lab, col in zip(LEG_POS_LEFT, MODEL_LABELS, CHANNEL_COLORS):
    fig.text(fx(x), fy(y), lab, color=col, size=15, ha='center', va='center')
for (x, y), lab, col in zip(LEG_POS_RIGHT, LANL_LABELS, CHANNEL_COLORS):
    fig.text(fx(x), fy(y), lab, color=col, size=15, ha='center', va='center')

# x-axis titles
fig.text(fx(466), fy(1218), 'UT (hours)', size=16, ha='center', va='center')
fig.text(fx(1177), fy(1218), 'UT (hours)', size=16, ha='center', va='center')

fig.savefig('out.png', dpi=100, facecolor='white')
